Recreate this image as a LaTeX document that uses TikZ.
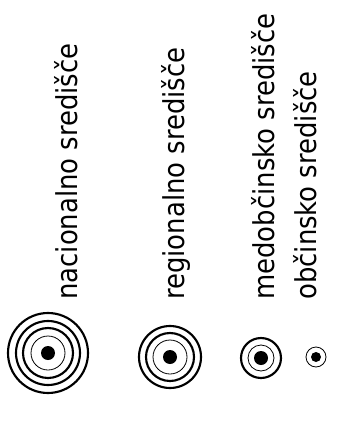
\documentclass[tikz,border=0pt]{standalone}
\usepackage{fontspec}
\setmainfont{DejaVu Sans Condensed}
\usetikzlibrary{positioning}

\begin{document}
\begin{tikzpicture}[x=0.75pt, y=-0.75pt,
every node/.style={rotate=90, anchor=base west, inner sep=0pt,
font=\fontsize{21.6}{24}\selectfont},
thickring/.style={line width=1.6pt},
thinring/.style={line width=0.6pt}]
\useasboundingbox (0,0) rectangle (340,421);
% labels
\node (nac) at (77,300) {nacionalno središče};
\node (reg) at (184,300) {regionalno središče};
\node (med) at (274,300) {medobčinsko središče};
\node (obc) at (316,300) {občinsko središče};
% symbols
\coordinate (snac) at (48,353);
\coordinate (sreg) at (170,357);
\coordinate (smed) at (261,358);
\coordinate (sobc) at (316,357);
\fill (snac) circle (7);
\draw[thinring] (snac) circle (17);
\draw[thickring] (snac) circle (25) (snac) circle (32) (snac) circle (40);
\fill (sreg) circle (7);
\draw[thinring] (sreg) circle (17);
\draw[thickring] (sreg) circle (24) (sreg) circle (31);
\fill (smed) circle (7);
\draw[thinring] (smed) circle (13);
\draw[thickring] (smed) circle (20);
\fill (sobc) circle (5);
\draw[thinring] (sobc) circle (10);
\end{tikzpicture}
\end{document}
